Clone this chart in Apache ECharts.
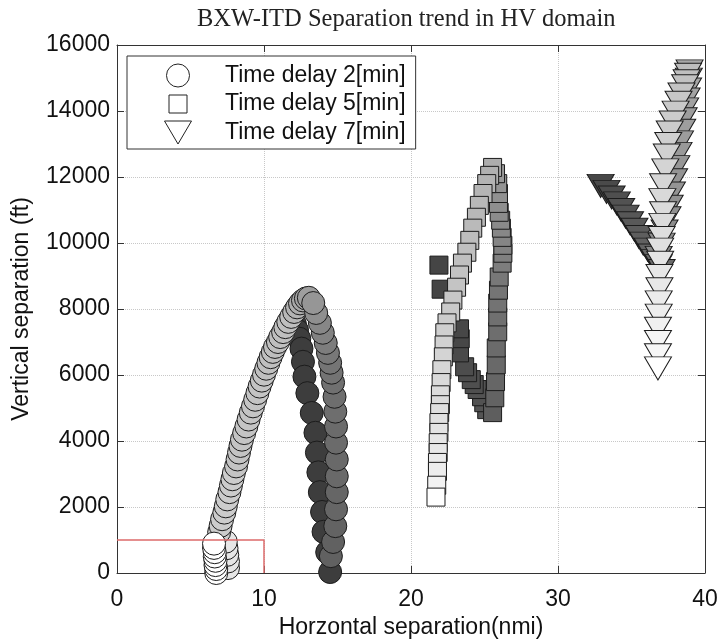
<!DOCTYPE html>
<html><head><meta charset="utf-8">
<script src="https://cdn.jsdelivr.net/npm/echarts@6/dist/echarts.min.js"></script>
<style>html,body{margin:0;padding:0;background:#fff}#c{width:722px;height:644px}</style>
</head><body><div id="c"></div><script>
// ---- data ----
// tone: value of the grey colour scale of each marker (0 = black, 100 = white)
const delay2X = [12.1,12.25,12.4,12.55,12.65,12.75,12.95,13.25,13.5,13.6,13.7,13.8,13.95,14.05,14.3,14.5,
  7.55,7.55,7.5,7.45,7.4,
  6.95,7.05,7.15,7.3,7.4,7.5,7.65,7.75,7.85,7.95,8.1,8.2,8.3,8.4,8.5,8.65,8.8,8.95,9.1,9.25,9.4,9.55,9.7,9.85,10.0,10.15,10.3,10.45,10.6,10.75,10.95,11.1,11.3,11.45,11.65,11.85,12.05,12.25,12.45,12.65,12.85,13.05,
  14.55,14.7,14.85,14.9,14.95,14.95,14.95,14.9,14.9,14.85,14.8,14.7,14.6,14.5,14.35,14.2,14.0,13.8,13.55,13.35,
  6.75,6.75,6.7,6.7,6.65,6.65,6.6,6.6];
const delay2Y = [7550,7350,7100,6800,6400,5950,5450,4850,4250,3650,3050,2450,1850,1250,630,30,
  150,350,550,750,950,
  1240,1430,1630,1830,2020,2230,2450,2650,2840,3030,3230,3440,3650,3850,4040,4240,4440,4650,4860,5050,5250,5450,5650,5830,6010,6190,6370,6540,6700,6850,7000,7150,7300,7450,7610,7760,7910,8050,8170,8260,8320,8340,
  510,940,1420,1930,2450,2930,3440,3950,4440,4890,5340,5770,6070,6370,6670,6970,7280,7580,7880,8180,
  0,120,240,370,500,630,760,890];
const delay2Tone = [24,24,24,24,24,24,24,24,24,24,24,24,24,24,24,24,
  90,90,90,90,90,
  80,80,80,80,80,80,80,80,80,80,77,77,77,77,77,77,77,77,77,77,77,77,77,77,77,75,75,75,75,75,75,75,75,75,75,75,72,70,68,66,64,62,
  38,38,39,40,40,41,41,42,42,43,43,44,45,46,47,49,51,53,56,59,
  100,100,100,100,100,100,100,100];

const delay5X = [25.15,24.95,24.8,24.5,24.3,24.1,23.85,23.65,23.3,23.35,23.3,22.05,21.9,
  25.55,25.7,25.75,25.8,25.8,25.9,25.9,25.9,25.95,26.0,26.2,26.25,26.25,26.2,26.15,26.1,26.0,25.95,25.95,25.9,25.75,
  25.55,25.35,25.15,24.9,24.65,24.45,24.2,24.0,23.8,23.5,23.3,23.1,22.85,22.7,22.45,22.3,22.25,22.2,22.1,22.05,22.0,22.0,21.95,21.9,21.9,21.85,21.85,21.8,21.8,21.75,21.7];
const delay5Y = [4950,5160,5340,5560,5710,5860,6070,6250,6670,7100,7400,8600,9330,
  4860,5310,5800,6310,6820,7310,7760,8180,8570,8970,9390,9690,9930,10170,10450,10690,10930,11200,11500,11800,12100,
  12290,12050,11800,11500,11140,10780,10450,10080,9720,9390,9030,8660,8270,7910,7580,7280,6910,6550,6160,5770,5400,5100,4860,4560,4260,3950,3650,3350,3080,2660,2300];
const delay5Tone = [33,33,32,32,31,31,30,30,29,28,28,27,27,
  37,39,40,41,42,43,44,45,46,47,49,50,51,52,53,54,55,56,57,58,60,
  68,69,70,71,72,72,73,74,75,75,76,77,78,79,80,81,82,83,84,85,86,86,87,88,89,90,91,92,93,95,100];

const delay7X = [32.9,33.3,33.65,34.0,34.3,34.6,34.9,35.2,35.5,35.8,36.1,36.35,36.6,36.85,37.05,
  38.95,38.9,38.85,38.75,38.65,38.55,38.45,38.3,38.2,38.05,37.9,37.75,37.6,37.45,37.25,37.05,36.85,
  38.85,38.75,38.65,38.4,38.2,38.0,37.8,37.6,37.5,37.4,37.3,37.15,37.1,37.15,37.1,37.05,36.95,36.95,36.9,36.9,36.85,36.85,36.8,36.8,36.8,36.8];
const delay7Y = [11730,11550,11380,11200,11000,10800,10600,10400,10180,9980,9800,9620,9450,9300,9150,
  15200,14950,14650,14350,14050,13750,13400,13050,12700,12300,11900,11500,11100,10750,10350,9950,9550,
  15100,14900,14750,14500,14250,13950,13650,13350,13000,12650,12200,11750,11300,10900,10550,10150,9800,9400,9000,8600,8200,7800,7400,7000,6600,6200];
const delay7Tone = [28,29,30,31,32,33,34,35,36,37,38,39,40,41,42,
  66,65,65,64,63,62,62,61,60,59,58,58,57,56,55,55,54,
  74,75,76,77,78,79,80,80,81,82,83,84,85,86,86,87,88,89,90,91,92,93,94,96,97,100];

const limitX = [0, 10, 10];
const limitY = [1000, 1000, 0];

const seriesNames = ['Time delay 2[min]', 'Time delay 5[min]', 'Time delay 7[min]'];
const xTicks = {min: 0, max: 40, step: 10};
const yTicks = {min: 0, max: 16000, step: 2000};

// ---- chart ----
const SANS = 'Liberation Sans, Arial, sans-serif';
function pts(xs, ys, ts) { return xs.map((x, i) => ts ? [x, ys[i], ts[i]] : [x, ys[i]]); }

const frameLine = {show: true, onZero: false, lineStyle: {color: '#333', width: 1}};
const innerTick = {show: true, inside: true, length: 7, lineStyle: {color: '#333', width: 1}};
const gridLine = {show: true, lineStyle: {color: '#c8c8c8', type: 'dotted', width: 1}};
const markerBorder = {borderColor: '#1c1c1c', borderWidth: 1, opacity: 1};
const triPath = 'path://M0,0L27,0L13.5,23Z';

const chart = echarts.init(document.getElementById('c'), null, {renderer: 'canvas'});
chart.setOption({
  animation: false,
  backgroundColor: '#fff',
  title: {
    text: 'BXW-ITD Separation trend in HV domain',
    left: 197, top: 7, padding: 0,
    textStyle: {fontFamily: 'Liberation Serif, Times New Roman, serif', fontSize: 24.5, fontWeight: 'normal', color: '#222'}
  },
  grid: {left: 117, top: 45, width: 588, height: 529, containLabel: false},
  legend: {
    orient: 'vertical', left: 127, top: 56,
    padding: [7.5, 10, 4.5, 37],
    itemWidth: 84, itemHeight: 23, itemGap: 4.5,
    backgroundColor: '#fff', borderColor: '#333', borderWidth: 1, borderRadius: 0,
    textStyle: {fontFamily: SANS, fontSize: 23, color: '#111'},
    selectedMode: false,
    data: [
      {name: seriesNames[0], icon: 'circle', itemStyle: {color: '#fff', borderColor: '#222', borderWidth: 1}},
      {name: seriesNames[1], icon: 'path://M0,0M2.5,2.5L20.5,2.5L20.5,20.5L2.5,20.5ZM23,23', itemStyle: {color: '#fff', borderColor: '#222', borderWidth: 1}},
      {name: seriesNames[2], icon: triPath, itemStyle: {color: '#fff', borderColor: '#222', borderWidth: 1}}
    ]
  },
  visualMap: {
    type: 'continuous', show: false, dimension: 2, min: 0, max: 100,
    seriesIndex: [1, 2, 3], inRange: {color: ['#000000', '#ffffff']}
  },
  xAxis: [
    {type: 'value', min: xTicks.min, max: xTicks.max, interval: xTicks.step, position: 'bottom',
     axisLine: frameLine, axisTick: innerTick, splitLine: gridLine,
     axisLabel: {fontFamily: SANS, fontSize: 23, color: '#111', margin: 15, formatter: v => String(v)},
     name: 'Horzontal separation(nmi)', nameLocation: 'middle', nameGap: 43,
     nameTextStyle: {fontFamily: SANS, fontSize: 23, color: '#111'}},
    {type: 'value', min: xTicks.min, max: xTicks.max, interval: xTicks.step, position: 'top',
     axisLine: frameLine, axisTick: innerTick, splitLine: {show: false}, axisLabel: {show: false}}
  ],
  yAxis: [
    {type: 'value', min: yTicks.min, max: yTicks.max, interval: yTicks.step, position: 'left',
     axisLine: frameLine, axisTick: innerTick, splitLine: gridLine,
     axisLabel: {fontFamily: SANS, fontSize: 23, color: '#111', margin: 7, formatter: v => String(v)},
     name: 'Vertical separation (ft)', nameLocation: 'middle', nameGap: 84,
     nameTextStyle: {fontFamily: SANS, fontSize: 23, color: '#111'}},
    {type: 'value', min: yTicks.min, max: yTicks.max, interval: yTicks.step, position: 'right',
     axisLine: frameLine, axisTick: innerTick, splitLine: {show: false}, axisLabel: {show: false}}
  ],
  series: [
    {type: 'line', data: pts(limitX, limitY), symbol: 'none', silent: true,
     lineStyle: {color: '#dd6b6b', width: 1.5}, xAxisIndex: 0, yAxisIndex: 0},
    {type: 'scatter', name: seriesNames[0], data: pts(delay2X, delay2Y, delay2Tone),
     symbol: 'circle', symbolSize: 23, itemStyle: markerBorder, clip: false, silent: true},
    {type: 'scatter', name: seriesNames[1], data: pts(delay5X, delay5Y, delay5Tone),
     symbol: 'rect', symbolSize: 18, itemStyle: markerBorder, clip: false, silent: true},
    {type: 'scatter', name: seriesNames[2], data: pts(delay7X, delay7Y, delay7Tone),
     symbol: triPath, symbolSize: [27, 23], itemStyle: markerBorder, clip: false, silent: true}
  ]
});
</script></body></html>
